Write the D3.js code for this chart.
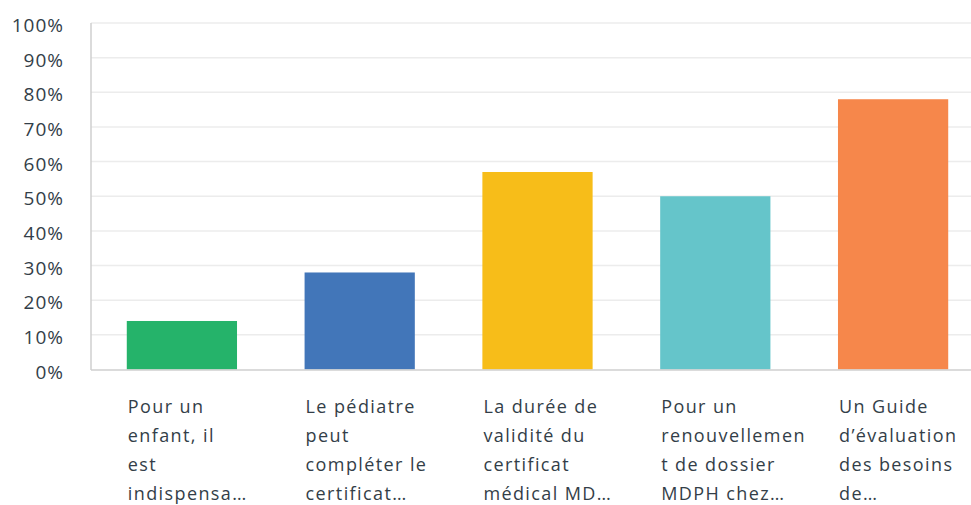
<!DOCTYPE html>
<html>
<head>
<meta charset="utf-8">
<script src="https://cdn.jsdelivr.net/npm/d3@7"></script>
<style>
  body { margin: 0; background: #fff; }
  text { font-family: "Open Sans", sans-serif; fill: #333e48; }
</style>
</head>
<body>
<div id="viz"></div>
<script>
var labels = [
  ["Pour un", "enfant, il", "est", "indispensa…"],
  ["Le pédiatre", "peut", "compléter le", "certificat…"],
  ["La durée de", "validité du", "certificat", "médical MD…"],
  ["Pour un", "renouvellemen", "t de dossier", "MDPH chez…"],
  ["Un Guide", "d’évaluation", "des besoins", "de…"]
]
var values = [14, 28, 57, 50, 78]
var colors = ['#25b36a', '#4276b9', '#f7bd19', '#65c5ca', '#f6874b']
var ticks = [0, 10, 20, 30, 40, 50, 60, 70, 80, 90, 100]

var w = 971, h = 505

var svg = d3.select('#viz')
            .append('svg')
            .attr('width', w)
            .attr('height', h)

var x = d3.scaleBand()
          .domain(d3.range(values.length))
          .range([93, 982])
          .paddingInner(0.38)
          .paddingOuter(0.19)

var y = d3.scaleLinear()
          .domain([0, 100])
          .range([369.5, 23])

// grid
svg.selectAll('.grid')
   .data(ticks.slice(1))
   .enter()
   .append('line')
   .attr('x1', 91)
   .attr('x2', w)
   .attr('y1', d => y(d))
   .attr('y2', d => y(d))
   .attr('stroke', '#ececec')
   .attr('stroke-width', 1.5)

svg.selectAll('.ytick')
   .data(ticks)
   .enter()
   .append('text')
   .attr('x', 64)
   .attr('y', d => y(d) + 9)
   .attr('text-anchor', 'end')
   .style('font-size', '19px')
   .style('letter-spacing', '1px')
   .text(d => d + '%')

svg.selectAll('.bar')
   .data(values)
   .enter()
   .append('rect')
   .attr('x', (d, i) => x(i))
   .attr('y', d => y(d))
   .attr('width', x.bandwidth())
   .attr('height', d => y(0) - y(d))
   .attr('fill', (d, i) => colors[i])

// axis lines
svg.append('line')
   .attr('x1', 91).attr('x2', 91)
   .attr('y1', 23).attr('y2', 370)
   .attr('stroke', '#cfcfcf').attr('stroke-width', 1.5)
svg.append('line')
   .attr('x1', 91).attr('x2', w)
   .attr('y1', 370).attr('y2', 370)
   .attr('stroke', '#cfcfcf').attr('stroke-width', 1.5)

var lab = svg.selectAll('.lab')
             .data(labels)
             .enter()
             .append('text')
             .style('font-size', '18px')
             .style('letter-spacing', '1.4px')

lab.selectAll('tspan')
   .data((d, i) => d.map(t => ({ t: t, i: i })))
   .enter()
   .append('tspan')
   .attr('x', d => x(d.i) + 1)
   .attr('y', (d, j) => 413 + j * 29)
   .text(d => d.t)
</script>
</body>
</html>
